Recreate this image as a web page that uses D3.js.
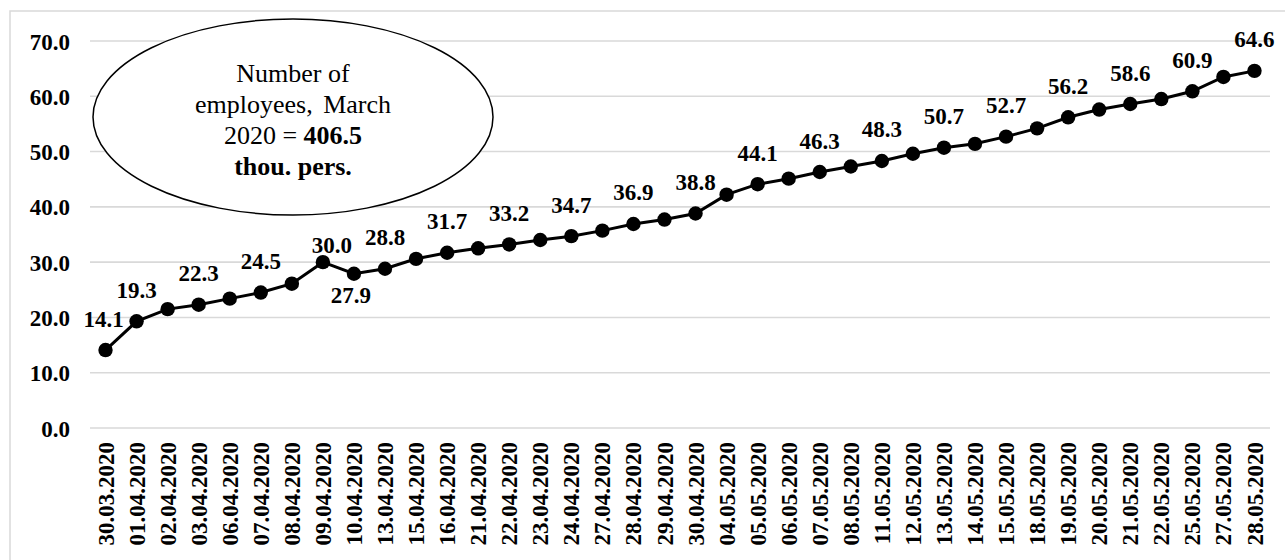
<!DOCTYPE html>
<html>
<head>
<meta charset="utf-8">
<script src="https://cdn.jsdelivr.net/npm/d3@7"></script>
<style>
  html, body { margin: 0; padding: 0; background: #fff; }
  svg { display: block; }
</style>
</head>
<body>
<svg id="chart" width="1285" height="560"></svg>
<script>
// ---- data ----
const categories = ["30.03.2020","01.04.2020","02.04.2020","03.04.2020","06.04.2020","07.04.2020","08.04.2020","09.04.2020","10.04.2020","13.04.2020","15.04.2020","16.04.2020","21.04.2020","22.04.2020","23.04.2020","24.04.2020","27.04.2020","28.04.2020","29.04.2020","30.04.2020","04.05.2020","05.05.2020","06.05.2020","07.05.2020","08.05.2020","11.05.2020","12.05.2020","13.05.2020","14.05.2020","15.05.2020","18.05.2020","19.05.2020","20.05.2020","21.05.2020","22.05.2020","25.05.2020","27.05.2020","28.05.2020"];
const values = [14.1,19.3,21.5,22.3,23.4,24.5,26.1,30.0,27.9,28.8,30.6,31.7,32.5,33.2,34.0,34.7,35.7,36.9,37.7,38.8,42.2,44.1,45.1,46.3,47.3,48.3,49.6,50.7,51.4,52.7,54.2,56.2,57.6,58.6,59.5,60.9,63.5,64.6];
const labelled = ["30.03.2020","01.04.2020","03.04.2020","07.04.2020","09.04.2020","10.04.2020","13.04.2020","16.04.2020","22.04.2020","24.04.2020","28.04.2020","30.04.2020","05.05.2020","07.05.2020","11.05.2020","13.05.2020","15.05.2020","19.05.2020","21.05.2020","25.05.2020","28.05.2020"];
const yTicks = [0,10,20,30,40,50,60,70];
const noteLines = ["Number of", "employees, March"];
const noteLine3 = ["2020 = ", "406.5"];
const noteLine4 = "thou. pers.";

const FONT = "'Liberation Serif', 'Times New Roman', serif";

// ---- layout ----
const svg = d3.select("#chart");
const plot = {left: 90, right: 1270, top: 41, bottom: 428};

svg.append("rect").attr("x", 10).attr("y", 11).attr("width", 1290).attr("height", 560)
  .attr("fill", "#fff").attr("stroke", "#d9d9d9").attr("stroke-width", 1.5);

const x = d3.scaleBand().domain(categories).range([plot.left, plot.right]).padding(0);
const y = d3.scaleLinear().domain([0, 70]).range([plot.bottom, plot.top]);
const cx = d => x(d) + x.bandwidth() / 2;

// gridlines
svg.append("g").selectAll("line").data(yTicks).join("line")
  .attr("x1", plot.left).attr("x2", plot.right)
  .attr("y1", d => y(d)).attr("y2", d => y(d))
  .attr("stroke", "#d9d9d9").attr("stroke-width", 1.6);

// y axis labels
const yAxis = d3.axisLeft(y).tickValues(yTicks).tickFormat(d3.format(".1f")).tickSize(0).tickPadding(0);
const gy = svg.append("g").attr("transform", "translate(70,0)").call(yAxis);
gy.select(".domain").remove();
gy.attr("font-family", null).attr("font-size", null);
gy.selectAll("text").style("font-family", FONT).style("font-size", "23px").style("font-weight", "bold")
  .attr("fill", "#000").attr("dy", "0.35em");

// x axis labels (rotated)
const xAxis = d3.axisBottom(x).tickSize(0).tickPadding(0);
const gx = svg.append("g").attr("transform", "translate(0,442)").call(xAxis);
gx.select(".domain").remove();
gx.attr("font-family", null).attr("font-size", null);
gx.selectAll("text").style("font-family", FONT).style("font-size", "23px").style("font-weight", "bold")
  .attr("fill", "#000")
  .attr("transform", "rotate(-90)").attr("text-anchor", "end")
  .attr("x", 0).attr("y", 0).attr("dy", "0.35em");

// line
const data = categories.map((c, i) => ({c, v: values[i]}));
svg.append("path").datum(data)
  .attr("fill", "none").attr("stroke", "#000").attr("stroke-width", 3)
  .attr("d", d3.line().x(d => cx(d.c)).y(d => y(d.v)));

svg.append("g").selectAll("circle").data(data).join("circle")
  .attr("cx", d => cx(d.c)).attr("cy", d => y(d.v)).attr("r", 7.2).attr("fill", "#000");

// data labels
const labOffset = {"09.04.2020": [9, -9], "10.04.2020": [-3, 29], "30.03.2020": [-2, -23]};
svg.append("g").selectAll("text").data(data.filter(d => labelled.includes(d.c))).join("text")
  .attr("x", d => cx(d.c) + (labOffset[d.c] ? labOffset[d.c][0] : 0))
  .attr("y", d => y(d.v) + (labOffset[d.c] ? labOffset[d.c][1] : -23.5))
  .attr("text-anchor", "middle")
  .style("font-family", FONT).style("font-size", "23px").style("font-weight", "bold")
  .attr("fill", "#000")
  .text(d => d3.format(".1f")(d.v));

// annotation ellipse
svg.append("ellipse").attr("cx", 293).attr("cy", 117).attr("rx", 200).attr("ry", 98)
  .attr("fill", "#fff").attr("stroke", "#000").attr("stroke-width", 1.5);
const note = svg.append("g").attr("text-anchor", "middle");
const noteText = sel => sel.style("font-family", FONT).style("font-size", "26px").attr("fill", "#000");
note.append("text").attr("x", 293).attr("y", 82).call(noteText).text(noteLines[0]);
note.append("text").attr("x", 293).attr("y", 113).attr("word-spacing", 4).call(noteText).text(noteLines[1]);
const t3 = note.append("text").attr("x", 293).attr("y", 144).call(noteText);
t3.append("tspan").text(noteLine3[0]);
t3.append("tspan").style("font-weight", "bold").text(noteLine3[1]);
note.append("text").attr("x", 293).attr("y", 175).call(noteText).style("font-weight", "bold").text(noteLine4);
</script>
</body>
</html>
